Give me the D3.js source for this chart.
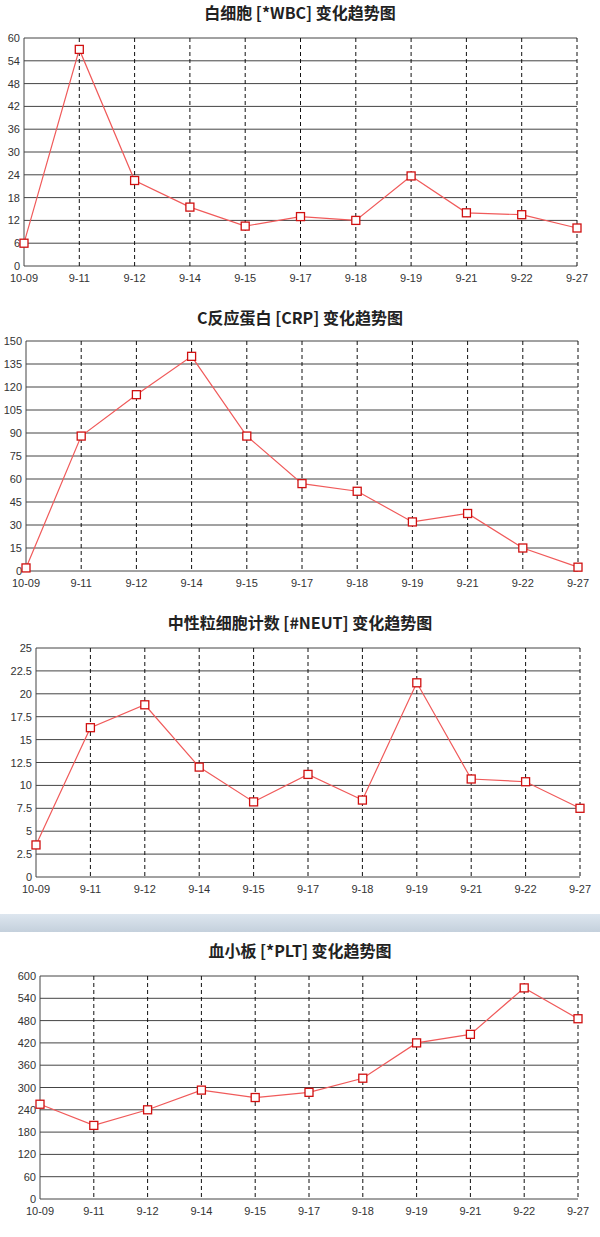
<!DOCTYPE html>
<html><head><meta charset="utf-8">
<script src="https://cdn.jsdelivr.net/npm/d3@7"></script>
<style>body{margin:0;background:#fff}svg{display:block}</style>
</head><body>
<svg id="c" width="600" height="1237"></svg>
<script>
const dates = ["10-09","9-11","9-12","9-14","9-15","9-17","9-18","9-19","9-21","9-22","9-27"];
const wbc  = [6,57,22.5,15.5,10.5,13,12,23.7,14,13.5,10];
const crp  = [2,88,115,140,88,57,52,32,37.5,15,2.5];
const neut = [3.5,16.3,18.8,12,8.2,11.2,8.4,21.2,10.7,10.4,7.5];
const plt  = [255,198,240,293,273,287,325,420,443,568,485];
const wbcTicks = [0,6,12,18,24,30,36,42,48,54,60];
const crpTicks = [0,15,30,45,60,75,90,105,120,135,150];
const neutTicks = [0,2.5,5,7.5,10,12.5,15,17.5,20,22.5,25];
const pltTicks = [0,60,120,180,240,300,360,420,480,540,600];

const svg = d3.select("#c");
function panel(title, data, ticks, ty, x0, x1, y0, y1){
  const g = svg.append("g");
  g.append("text").attr("x",300).attr("y",ty).attr("text-anchor","middle")
    .attr("font-family","'Noto Sans CJK SC','Liberation Sans',sans-serif").attr("font-weight","bold")
    .attr("font-size",16).attr("fill","#222").text(title);
  const x = d3.scalePoint().domain(dates).range([x0,x1]);
  const y = d3.scaleLinear().domain([ticks[0],ticks[ticks.length-1]]).range([y1,y0]);
  g.selectAll(".h").data(ticks).join("line").attr("x1",x0).attr("x2",x1)
    .attr("y1",d=>y(d)).attr("y2",d=>y(d)).attr("stroke","#444").attr("stroke-width",1);
  g.selectAll(".v").data(dates.slice(1)).join("line").attr("x1",d=>x(d)).attr("x2",d=>x(d))
    .attr("y1",y0).attr("y2",y1).attr("stroke","#111").attr("stroke-dasharray","4,3");
  g.append("line").attr("x1",x0).attr("x2",x0).attr("y1",y0).attr("y2",y1).attr("stroke","#444");
  g.selectAll(".yl").data(ticks).join("text").attr("x",x0-4).attr("y",d=>y(d)+4)
    .attr("text-anchor","end").attr("font-family","'Liberation Sans',Arial,sans-serif")
    .attr("font-size",11).attr("fill","#333").text(d=>d);
  g.selectAll(".xl").data(dates).join("text").attr("x",d=>x(d)).attr("y",y1+16)
    .attr("text-anchor","middle").attr("font-family","'Liberation Sans',Arial,sans-serif")
    .attr("font-size",11).attr("fill","#333").text(d=>d);
  const line = d3.line().x((d,i)=>x(dates[i])).y(d=>y(d));
  g.append("path").datum(data).attr("d",line).attr("fill","none").attr("stroke","#f05a5a").attr("stroke-width",1.2);
  g.selectAll(".m").data(data).join("rect").attr("x",(d,i)=>x(dates[i])-4).attr("y",d=>y(d)-4)
    .attr("width",8).attr("height",8).attr("fill","#fff").attr("stroke","#d01010").attr("stroke-width",1.3);
}
panel("白细胞 [*WBC] 变化趋势图", wbc, wbcTicks, 19, 24, 577, 38, 266);
panel("C反应蛋白 [CRP] 变化趋势图", crp, crpTicks, 324, 26, 578, 341, 571);
panel("中性粒细胞计数 [#NEUT] 变化趋势图", neut, neutTicks, 629, 36, 580, 648, 877);
// separator bar
const grad = svg.append("defs").append("linearGradient").attr("id","sg").attr("x1",0).attr("x2",0).attr("y1",0).attr("y2",1);
grad.append("stop").attr("offset","0").attr("stop-color","#dde6ef");
grad.append("stop").attr("offset","1").attr("stop-color","#c4d0dc");
svg.append("rect").attr("x",0).attr("y",914).attr("width",600).attr("height",18).attr("fill","url(#sg)");
panel("血小板 [*PLT] 变化趋势图", plt, pltTicks, 957, 40, 578, 976, 1199);
</script>
</body></html>
